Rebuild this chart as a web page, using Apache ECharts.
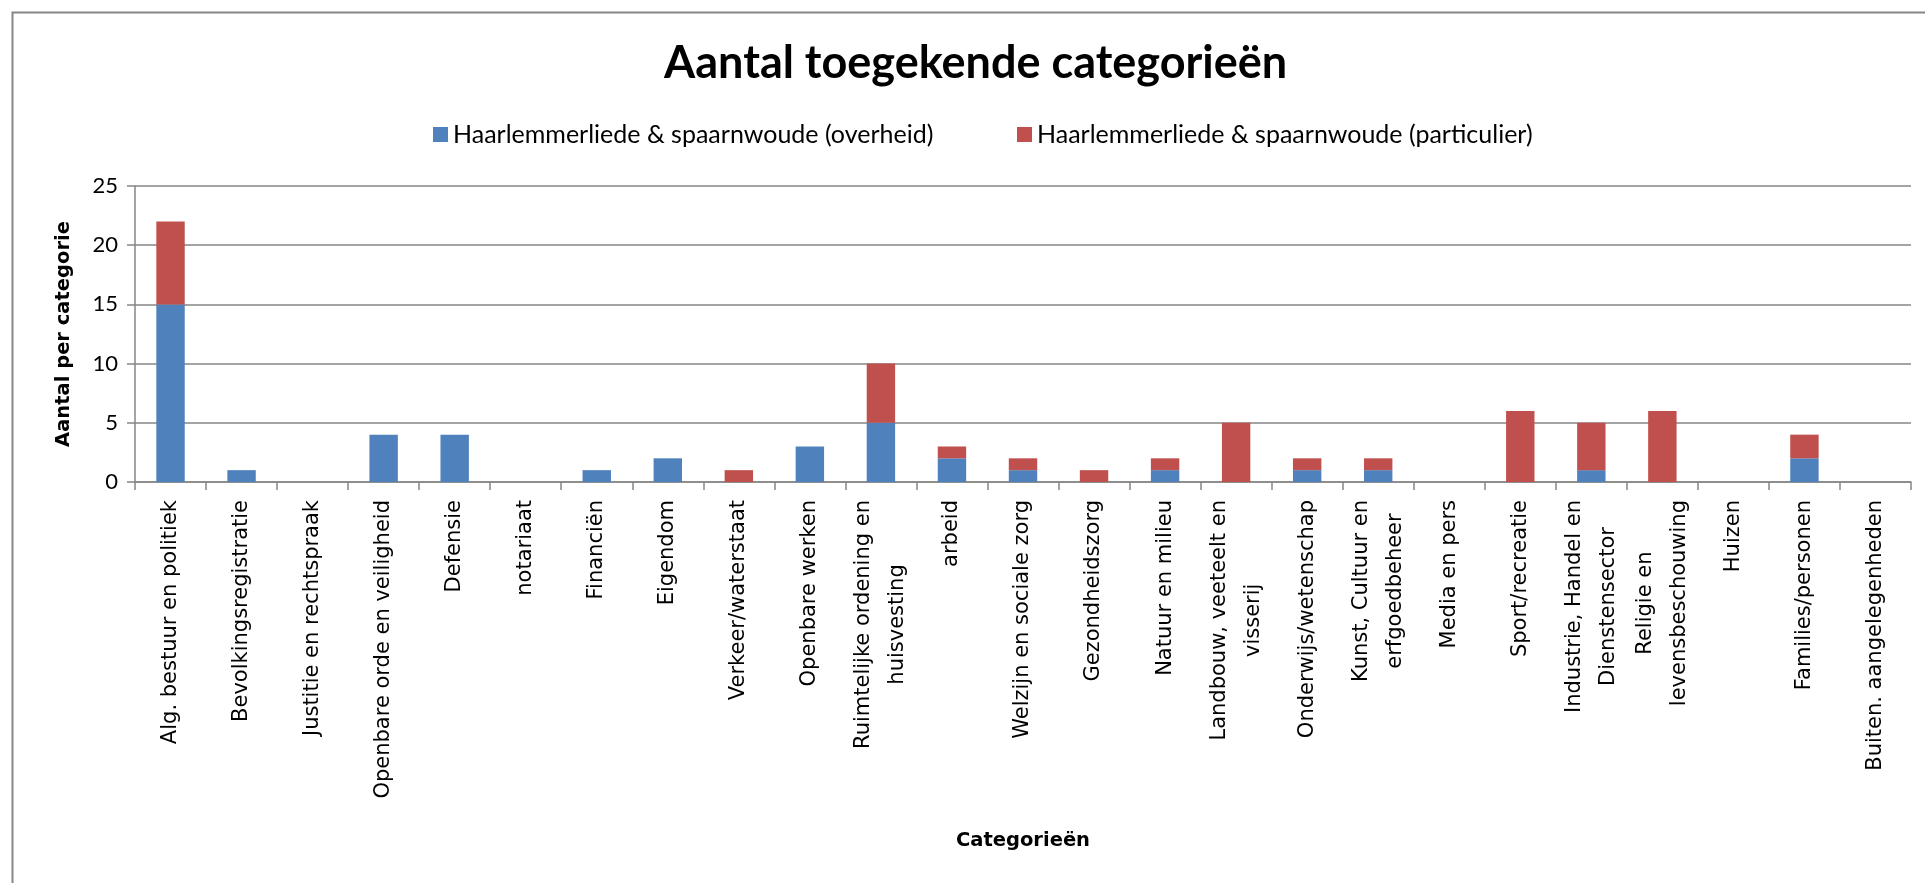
<!DOCTYPE html>
<html>
<head>
<meta charset="utf-8">
<script src="https://cdn.jsdelivr.net/npm/echarts@6/dist/echarts.min.js"></script>
<style>
html,body{margin:0;padding:0;background:#fff;}
#chart{width:1925px;height:883px;}
</style>
</head>
<body>
<div id="chart"></div>
<script>
const titleText = 'Aantal toegekende categorieën';
const yAxisTitle = 'Aantal per categorie';
const xAxisTitle = 'Categorieën';
const seriesNames = ['Haarlemmerliede & spaarnwoude (overheid)', 'Haarlemmerliede & spaarnwoude (particulier)'];
const categories = [
  'Alg. bestuur en politiek',
  'Bevolkingsregistratie',
  'Justitie en rechtspraak',
  'Openbare orde en veiligheid',
  'Defensie',
  'notariaat',
  'Financiën',
  'Eigendom',
  'Verkeer/waterstaat',
  'Openbare werken',
  'Ruimtelijke ordening en\nhuisvesting',
  'arbeid',
  'Welzijn en sociale zorg',
  'Gezondheidszorg',
  'Natuur en milieu',
  'Landbouw, veeteelt en\nvisserij',
  'Onderwijs/wetenschap',
  'Kunst, Cultuur en\nerfgoedbeheer',
  'Media en pers',
  'Sport/recreatie',
  'Industrie, Handel en\nDienstensector',
  'Religie en\nlevensbeschouwing',
  'Huizen',
  'Families/personen',
  'Buiten. aangelegenheden'
];
const overheid =    [15, 1, 0, 4, 4, 0, 1, 2, 0, 3, 5, 2, 1, 0, 1, 0, 1, 1, 0, 0, 1, 0, 0, 2, 0];
const particulier = [ 7, 0, 0, 0, 0, 0, 0, 0, 1, 0, 5, 1, 1, 1, 1, 5, 1, 1, 0, 6, 4, 6, 0, 2, 0];
const yTicks = { min: 0, max: 25, interval: 5 };

const FONT = 'Lato';
const AXFONT = '"DejaVu Sans"';
const chart = echarts.init(document.getElementById('chart'), null, { renderer: 'canvas' });
chart.setOption({
  backgroundColor: '#ffffff',
  animation: false,
  graphic: [{
    type: 'rect', left: 10, top: 10,
    shape: { width: 1930, height: 900 },
    style: { fill: 'none', stroke: '#868686', lineWidth: 2 },
    silent: true
  }],
  title: {
    text: titleText, left: 659, top: 36,
    textStyle: { fontFamily: FONT, fontWeight: 'bold', fontSize: 45, color: '#000' }
  },
  legend: [{
    data: [seriesNames[0]], left: 428, top: 117,
    itemWidth: 15, itemHeight: 15, itemGap: 6,
    icon: 'rect',
    textStyle: { fontFamily: FONT, fontSize: 25, color: '#000' }
  }, {
    data: [seriesNames[1]], left: 1012, top: 117,
    itemWidth: 15, itemHeight: 15, itemGap: 6,
    icon: 'rect',
    textStyle: { fontFamily: FONT, fontSize: 25, color: '#000' }
  }],
  grid: { left: 135, right: 14, top: 186, bottom: 401, containLabel: false },
  xAxis: {
    type: 'category', data: categories,
    name: xAxisTitle, nameLocation: 'middle', nameGap: 349,
    nameTextStyle: { fontFamily: AXFONT, fontWeight: 'bold', fontSize: 19.5, color: '#000' },
    axisLine: { lineStyle: { color: '#868686', width: 1.5 } },
    axisTick: { show: true, length: 8, lineStyle: { color: '#868686', width: 1.5 } },
    axisLabel: {
      interval: 0, rotate: 90, margin: 18,
      fontFamily: AXFONT, fontSize: 21, color: '#000', lineHeight: 34,
      formatter: function (v) {
        return v.split('\n').map(function (s) { return '{a|' + s + '}'; }).join('\n');
      },
      rich: { a: { fontFamily: AXFONT, fontSize: 21, color: '#000', lineHeight: 34, align: 'center' } }
    }
  },
  yAxis: {
    type: 'value', min: yTicks.min, max: yTicks.max, interval: yTicks.interval,
    name: yAxisTitle, nameLocation: 'middle', nameGap: 61,
    nameTextStyle: { fontFamily: AXFONT, fontWeight: 'bold', fontSize: 19.5, color: '#000' },
    axisLine: { show: true, lineStyle: { color: '#868686', width: 1.5 } },
    axisTick: { show: true, length: 8, lineStyle: { color: '#868686', width: 1.5 } },
    axisLabel: { margin: 17, fontFamily: FONT, fontSize: 22, color: '#000' },
    splitLine: { show: true, lineStyle: { color: '#868686', width: 1.5 } }
  },
  series: [{
    name: seriesNames[0], type: 'bar', stack: 'total', data: overheid,
    barWidth: '40%', itemStyle: { color: '#4F81BD' }
  }, {
    name: seriesNames[1], type: 'bar', stack: 'total', data: particulier,
    barWidth: '40%', itemStyle: { color: '#C0504D' }
  }]
});
</script>
</body>
</html>
